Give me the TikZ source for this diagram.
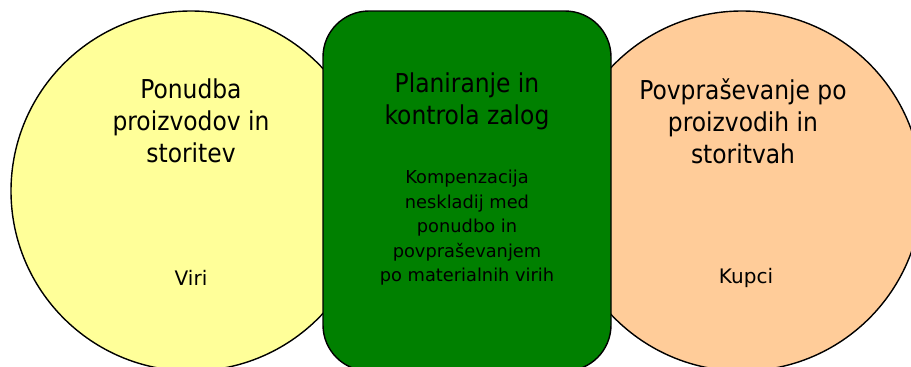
\documentclass[tikz,border=0pt]{standalone}
\usepackage{fontspec}
\setmainfont{DejaVu Sans}
\newfontfamily\condfont{DejaVu Sans Condensed}
\definecolor{supplyyellow}{HTML}{FFFF99}
\definecolor{plangreen}{HTML}{008000}
\definecolor{demandpeach}{HTML}{FFCC99}
\tikzset{
  bigcircle/.style={circle, draw=black, line width=1.4pt, minimum size=360pt, inner sep=0pt},
  greenbox/.style={rectangle, draw=black, line width=1.4pt, fill=plangreen, rounded corners=46pt, minimum width=288pt, minimum height=360pt, inner sep=0pt},
  bigtext/.style={align=center, inner sep=0pt, font=\condfont\fontsize{26}{32}\selectfont},
  smalltext/.style={align=center, inner sep=0pt, font=\fontsize{17.8}{24.5}\selectfont},
  labeltext/.style={align=center, inner sep=0pt, font=\fontsize{20}{24}\selectfont}
}
\begin{document}
\begin{tikzpicture}[x=1pt, y=-1pt]
\useasboundingbox (0,0) rectangle (911,367);
\node[bigcircle, fill=supplyyellow] (supply) at (191,191) {};
\node[bigcircle, fill=demandpeach] (demand) at (742,191) {};
\node[greenbox] (plan) at (467,191) {};
\node[bigtext] (supplytitle) at (191,121) {Ponudba\\proizvodov in\\storitev};
\node[bigtext] (plantitle) at (467,101) {Planiranje in\\kontrola zalog};
\node[bigtext] (demandtitle) at (743,121) {Povpraševanje po\\proizvodih in\\storitvah};
\node[labeltext] (viri) at (191,278) {Viri};
\node[labeltext] (kupci) at (746,278) {Kupci};
\node[smalltext] (plantext) at (467,228) {Kompenzacija\\neskladij med\\ponudbo in\\povpraševanjem\\po materialnih virih};
\end{tikzpicture}
\end{document}
